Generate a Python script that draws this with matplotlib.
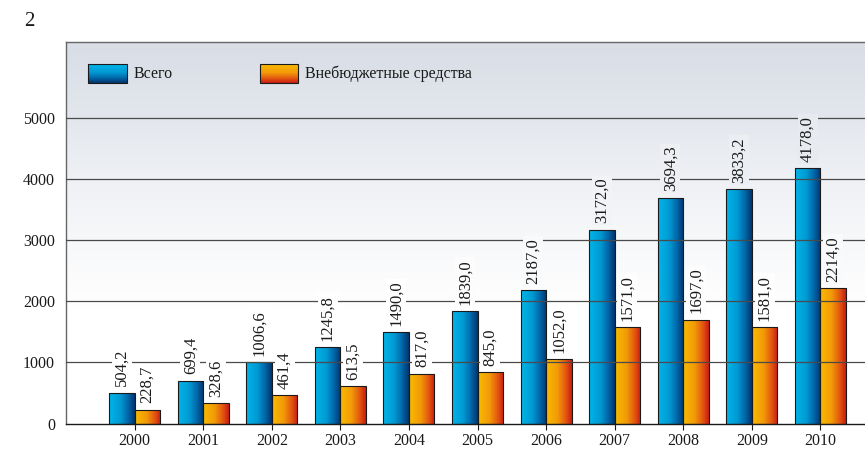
import numpy as np
import matplotlib
matplotlib.use("Agg")
import matplotlib.pyplot as plt
from matplotlib.colors import LinearSegmentedColormap

years = ["2000", "2001", "2002", "2003", "2004", "2005", "2006", "2007", "2008", "2009", "2010"]
total = [504.2, 699.4, 1006.6, 1245.8, 1490.0, 1839.0, 2187.0, 3172.0, 3694.3, 3833.2, 4178.0]
extra = [228.7, 328.6, 461.4, 613.5, 817.0, 845.0, 1052.0, 1571.0, 1697.0, 1581.0, 2214.0]
series_names = ["Всего", "Внебюджетные средства"]
yticks = [0, 1000, 2000, 3000, 4000, 5000]

plt.rcParams['font.family'] = ['Liberation Serif', 'DejaVu Serif']

blue_cmap = LinearSegmentedColormap.from_list("b", [(0, "#00b6ea"), (0.45, "#0098d2"), (0.75, "#0064a6"), (1, "#00346c")])
orange_cmap = LinearSegmentedColormap.from_list("o", [(0, "#f9bb00"), (0.45, "#f29a08"), (0.75, "#e45a10"), (1, "#c81c14")])

fig = plt.figure(figsize=(8.65, 4.5), dpi=100)
ax = fig.add_axes([66/865, 1-423.5/450, 799/865, (423.5-42)/450])

XMIN, XMAX, YMAX = -1.0, 10.65, 6240

# background gradient
grad = np.linspace(0, 1, 256).reshape(-1, 1)
bg_cmap = LinearSegmentedColormap.from_list(
    "bg", [(0, "#ffffff"), (0.3, "#ffffff"), (0.5, "#f6f7f9"), (0.65, "#eef0f4"),
           (0.8, "#e3e7ed"), (1, "#d8dde6")])
ax.imshow(grad, cmap=bg_cmap, origin="lower", aspect="auto",
          extent=[0, 1, 0, 1], transform=ax.transAxes, zorder=0)

x = np.arange(len(years))
w = 0.372
hgrad = np.linspace(0, 1, 128).reshape(1, -1)

def gradient_bars(vals, offset, cmap):
    bars = ax.bar(x + offset, vals, width=w, align="edge", facecolor="none",
                  edgecolor="#1a1a1a", linewidth=0.8, zorder=3)
    for p in bars:
        ax.imshow(hgrad, cmap=cmap, aspect="auto", origin="lower",
                  extent=[p.get_x(), p.get_x() + p.get_width(), 0, p.get_height()],
                  zorder=2.5, interpolation="bicubic")
    return bars

b1 = gradient_bars(total, -w, blue_cmap)
b2 = gradient_bars(extra, 0, orange_cmap)

for bars, vals in ((b1, total), (b2, extra)):
    for p, v in zip(bars, vals):
        frac = min(1.0, (p.get_height() + 450) / YMAX)
        ax.annotate(f"{v:.1f}".replace(".", ","),
                    xy=(p.get_x() + p.get_width()/2, p.get_height()),
                    xytext=(0, 4.5), textcoords="offset points",
                    rotation=90, ha="center", va="bottom", fontsize=12, color="#1a1a1a",
                    bbox=dict(boxstyle="square,pad=0.12", fc=bg_cmap(frac), ec="none"),
                    zorder=6)

# gridlines
for t in yticks[1:]:
    ax.axhline(t, color="#4a4a4a", linewidth=0.9, zorder=4)

ax.set_xlim(XMIN, XMAX)
ax.set_ylim(0, YMAX)
ax.set_xticks(x)
ax.set_xticklabels(years, fontsize=11.5, color="#1a1a1a")
ax.set_yticks(yticks)
ax.set_yticklabels([str(t) for t in yticks], fontsize=11.5, color="#1a1a1a")
ax.tick_params(axis="x", length=4, width=0.8, color="#1a1a1a", direction="out", pad=3)
ax.tick_params(axis="y", length=0, pad=8)

ax.spines["right"].set_visible(False)
ax.spines["top"].set_color("#666666")
ax.spines["left"].set_color("#666666")
ax.spines["bottom"].set_color("#1a1a1a")
ax.spines["top"].set_linewidth(1.0)
ax.spines["left"].set_linewidth(1.0)
ax.spines["bottom"].set_linewidth(1.0)
ax.spines["bottom"].set_zorder(5)

# legend
vgrad = np.linspace(0, 1, 64).reshape(-1, 1)
leg = [(0.0275, 0.0763, 0.0851, blue_cmap, series_names[0]),
       (0.2428, 0.2904, 0.2991, orange_cmap, series_names[1])]
for x0, x1, tx, cmap, name in leg:
    ax.imshow(vgrad, cmap=cmap.reversed(), origin="lower", aspect="auto",
              extent=[x0, x1, 0.8925, 0.9423], transform=ax.transAxes, zorder=7)
    ax.add_patch(plt.Rectangle((x0, 0.8925), x1 - x0, 0.9423 - 0.8925, transform=ax.transAxes,
                               fill=False, edgecolor="#1a1a1a", linewidth=0.8, zorder=8))
    ax.text(tx, 0.917, name, transform=ax.transAxes, fontsize=11.5, va="center", ha="left",
            color="#1a1a1a", zorder=8)

ax.set_xlim(XMIN, XMAX)
ax.set_ylim(0, YMAX)

fig.text(29/865, 1-21/450, "2", fontsize=15, ha="center", va="center", color="#1a1a1a")

fig.savefig("out.png", dpi=100)
